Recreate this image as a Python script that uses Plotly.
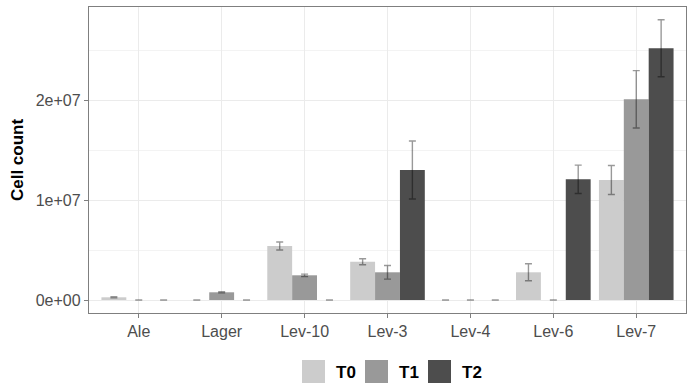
import plotly.graph_objects as go

categories = ["Ale", "Lager", "Lev-10", "Lev-3", "Lev-4", "Lev-6", "Lev-7"]
series_names = ["T0", "T1", "T2"]
series_colors = ["#cccccc", "#999999", "#4d4d4d"]
t0_values = [0.27e6, 0, 5.4e6, 3.83e6, 0, 2.77e6, 12.0e6]
t0_errors = [0.05e6, 0, 0.4e6, 0.3e6, 0, 0.85e6, 1.45e6]
t1_values = [0, 0.77e6, 2.47e6, 2.77e6, 0, 0, 20.07e6]
t1_errors = [0, 0.05e6, 0.12e6, 0.68e6, 0, 0, 2.87e6]
t2_values = [0, 0, 0, 13.0e6, 0, 12.07e6, 25.17e6]
t2_errors = [0, 0, 0, 2.9e6, 0, 1.42e6, 2.85e6]
y_tick_vals = [0, 1e7, 2e7]
y_tick_text = ["0e+00", "1e+07", "2e+07"]

values = [t0_values, t1_values, t2_values]
errors = [t0_errors, t1_errors, t2_errors]

FONT = "Liberation Sans, Arial, sans-serif"

fig = go.Figure()
for name, color, vals, errs in zip(series_names, series_colors, values, errors):
    fig.add_trace(go.Bar(
        x=categories, y=vals, name=name,
        marker=dict(color=color, line=dict(width=0)),
        error_y=dict(type="data", array=errs, visible=True,
                     color="rgba(0,0,0,0.4)", thickness=1.4, width=3.5),
        showlegend=False,
    ))

fig.update_layout(
    width=693, height=383,
    margin=dict(l=89, r=7, t=7, b=70),
    paper_bgcolor="white", plot_bgcolor="white",
    barmode="group", bargap=0.1, bargroupgap=0,
    font=dict(family=FONT, size=16, color="#4d4d4d"),
)
fig.update_xaxes(
    range=[-0.6, 6.6], showgrid=True, gridcolor="#ebebeb", gridwidth=1,
    showline=True, linecolor="#7f7f7f", linewidth=1.3, mirror=True,
    ticks="outside", ticklen=4, tickcolor="#7f7f7f",
    tickfont=dict(size=16, color="#4d4d4d"), zeroline=False,
)
fig.update_yaxes(
    range=[-0.13e7, 2.93e7], tickvals=y_tick_vals, ticktext=y_tick_text,
    showgrid=True, gridcolor="#ebebeb", gridwidth=1,
    minor=dict(dtick=0.5e7, tick0=0, showgrid=True, gridcolor="#f3f3f3", gridwidth=1),
    showline=True, linecolor="#7f7f7f", linewidth=1.3, mirror=True,
    ticks="outside", ticklen=4, tickcolor="#7f7f7f",
    tickfont=dict(size=16, color="#4d4d4d"), zeroline=False,
    title=dict(text="<b>Cell count</b>", font=dict(size=17, color="black"), standoff=7),
)

# Legend drawn below the panel
plot_l, plot_w = 89, 597
plot_b, plot_h = 313, 306
def px_to_x(px):
    return (px - plot_l) / plot_w
def py_to_y(py):
    return (plot_b - py) / plot_h

key_lefts = [302, 365, 428]
for name, color, kl in zip(series_names, series_colors, key_lefts):
    fig.add_shape(type="rect", xref="paper", yref="paper",
                  x0=px_to_x(kl), x1=px_to_x(kl + 23),
                  y0=py_to_y(383), y1=py_to_y(360),
                  fillcolor=color, line=dict(width=0))
    fig.add_annotation(xref="paper", yref="paper",
                       x=px_to_x(kl + 32), y=py_to_y(372),
                       xanchor="left", yanchor="middle", showarrow=False,
                       text="<b>" + name + "</b>",
                       font=dict(size=17, color="black", family=FONT))

fig.write_html("out.html")
